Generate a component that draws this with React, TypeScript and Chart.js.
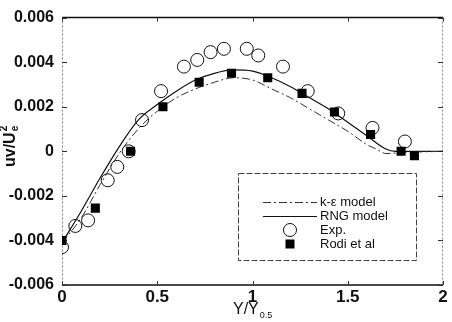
import React, { useEffect, useRef } from "react";
import { Chart, registerables } from "chart.js";

Chart.register(...registerables);

// ---- data ----
const kepsX = [0, 0.1, 0.2, 0.3, 0.4, 0.5, 0.6, 0.7, 0.8, 0.9, 1.0, 1.1, 1.2, 1.3, 1.4, 1.5, 1.6, 1.65, 1.7, 1.8, 2.0];
const kepsY = [-0.0041, -0.003, -0.0015, -0.0001, 0.001, 0.0018, 0.0024, 0.0028, 0.0031, 0.0033, 0.0032, 0.0028, 0.0024, 0.0019, 0.0014, 0.0009, 0.0003, 0.0001, -0.0001, -0.00005, 0];

const rngX = [0, 0.1, 0.2, 0.3, 0.4, 0.5, 0.6, 0.7, 0.8, 0.9, 1.0, 1.1, 1.2, 1.3, 1.4, 1.5, 1.6, 1.7, 1.75, 2.0];
const rngY = [-0.0041, -0.0027, -0.0012, 0.0002, 0.0014, 0.0021, 0.0027, 0.0032, 0.0035, 0.00365, 0.0036, 0.0033, 0.0029, 0.0024, 0.0019, 0.0013, 0.0007, 0.0001, 0, 0];

const expX = [0, 0.07, 0.137, 0.24, 0.29, 0.35, 0.42, 0.52, 0.64, 0.71, 0.78, 0.85, 0.97, 1.03, 1.16, 1.29, 1.45, 1.63, 1.8];
const expY = [-0.0043, -0.00335, -0.0031, -0.0013, -0.0007, 0.0, 0.0014, 0.0027, 0.0038, 0.0041, 0.00445, 0.0046, 0.0046, 0.0043, 0.0038, 0.0027, 0.0017, 0.00105, 0.00044];

const rodiX = [0, 0.175, 0.36, 0.53, 0.72, 0.89, 1.08, 1.26, 1.43, 1.62, 1.78, 1.85];
const rodiY = [-0.004, -0.00255, 0.0, 0.002, 0.0031, 0.0035, 0.0033, 0.0026, 0.00176, 0.00075, 0.0, -0.0002];

const xTicks = [0, 0.5, 1, 1.5, 2];
const yTicks = [-0.006, -0.004, -0.002, 0, 0.002, 0.004, 0.006];
const seriesNames = ["k-\u03B5 model", "RNG model", "Exp.", "Rodi et al"];

const FONT = "'Liberation Sans', Arial, Helvetica, sans-serif";

function pts(xs: number[], ys: number[]) {
  return xs.map((x, i) => ({ x, y: ys[i] }));
}

function fmtY(v: number) {
  if (Math.abs(v) < 1e-9) return "0";
  return v.toFixed(3);
}

const framePlugin = {
  id: "frame",
  beforeDatasetsDraw(chart: any) {
    const { ctx, chartArea, scales } = chart;
    const { left, right, top, bottom } = chartArea;
    ctx.save();
    ctx.strokeStyle = "#111";
    ctx.lineWidth = 1.5;
    ctx.beginPath();
    ctx.moveTo(left, top);
    ctx.lineTo(right, top);
    ctx.moveTo(left, bottom);
    ctx.lineTo(right, bottom);
    ctx.stroke();
    ctx.setLineDash([2, 2]);
    ctx.strokeStyle = "#888";
    ctx.lineWidth = 1;
    ctx.beginPath();
    ctx.moveTo(left + 0.5, top);
    ctx.lineTo(left + 0.5, bottom);
    ctx.moveTo(right - 0.5, top);
    ctx.lineTo(right - 0.5, bottom);
    ctx.stroke();
    ctx.setLineDash([]);
    ctx.strokeStyle = "#333";
    ctx.beginPath();
    yTicks.forEach((v) => {
      const py = Math.round(scales.y.getPixelForValue(v)) + 0.5;
      ctx.moveTo(left, py);
      ctx.lineTo(left + 5, py);
      ctx.moveTo(right, py);
      ctx.lineTo(right - 5, py);
    });
    xTicks.forEach((v) => {
      const px = Math.round(scales.x.getPixelForValue(v)) + 0.5;
      ctx.moveTo(px, bottom);
      ctx.lineTo(px, bottom - 4);
      ctx.moveTo(px, top);
      ctx.lineTo(px, top + 4);
    });
    ctx.stroke();
    ctx.restore();
  },
};

const titlesPlugin = {
  id: "titles",
  afterDraw(chart: any) {
    const { ctx } = chart;
    ctx.save();
    ctx.fillStyle = "#111";
    // x title
    ctx.textBaseline = "alphabetic";
    ctx.textAlign = "left";
    ctx.font = `16px ${FONT}`;
    const main = "Y/Y";
    ctx.fillText(main, 233, 314);
    const w = ctx.measureText(main).width;
    ctx.font = `9px ${FONT}`;
    ctx.fillText("0.5", 233 + w + 1, 318);
    // y title (rotated)
    ctx.translate(15, 167);
    ctx.rotate(-Math.PI / 2);
    ctx.font = `bold 16px ${FONT}`;
    const ym = "uv/U";
    ctx.fillText(ym, 0, 0);
    const yw = ctx.measureText(ym).width;
    ctx.font = `bold 10px ${FONT}`;
    ctx.fillText("2", yw + 1, -8);
    ctx.fillText("e", yw + 1, 3);
    ctx.restore();
  },
};

const legendPlugin = {
  id: "boxLegend",
  afterDraw(chart: any) {
    const { ctx } = chart;
    const bx = 238, by = 173, bw = 178, bh = 87;
    ctx.save();
    ctx.fillStyle = "#fff";
    ctx.fillRect(bx, by, bw, bh);
    ctx.strokeStyle = "#444";
    ctx.lineWidth = 1;
    ctx.setLineDash([6, 2]);
    ctx.strokeRect(bx + 0.5, by + 0.5, bw, bh);
    ctx.setLineDash([]);
    const rows = [202, 216, 230, 244];
    const x0 = 263, x1 = 317, xm = 290;
    chart.data.datasets.forEach((ds: any, i: number) => {
      const yy = rows[i];
      if (ds.showLine) {
        ctx.strokeStyle = ds.borderColor;
        ctx.lineWidth = ds.borderWidth;
        ctx.setLineDash(ds.borderDash || []);
        ctx.beginPath();
        ctx.moveTo(x0, yy + 0.5);
        ctx.lineTo(x1, yy + 0.5);
        ctx.stroke();
        ctx.setLineDash([]);
      } else if (ds.pointStyle === "circle") {
        ctx.strokeStyle = "#111";
        ctx.lineWidth = 1;
        ctx.beginPath();
        ctx.arc(xm, yy, 6.5, 0, Math.PI * 2);
        ctx.stroke();
      } else {
        ctx.fillStyle = "#000";
        ctx.fillRect(xm - 4.5, yy - 4.5, 9, 9);
      }
      ctx.fillStyle = "#111";
      ctx.font = `13px ${FONT}`;
      ctx.textAlign = "left";
      ctx.textBaseline = "middle";
      ctx.fillText(ds.label, 320, yy);
    });
    ctx.restore();
  },
};

export default function App() {
  const ref = useRef<HTMLCanvasElement | null>(null);

  useEffect(() => {
    if (!ref.current) return;
    const chart = new Chart(ref.current, {
      type: "scatter",
      data: {
        datasets: [
          {
            label: seriesNames[0],
            data: pts(kepsX, kepsY),
            showLine: true,
            borderColor: "#333",
            borderWidth: 1,
            borderDash: [8, 3, 2, 3],
            pointRadius: 0,
            cubicInterpolationMode: "monotone",
            order: 3,
          },
          {
            label: seriesNames[1],
            data: pts(rngX, rngY),
            showLine: true,
            borderColor: "#111",
            borderWidth: 1.2,
            pointRadius: 0,
            cubicInterpolationMode: "monotone",
            order: 3,
          },
          {
            label: seriesNames[2],
            data: pts(expX, expY),
            showLine: false,
            pointStyle: "circle",
            pointRadius: 6.5,
            pointBackgroundColor: "rgba(0,0,0,0)",
            pointBorderColor: "#111",
            pointBorderWidth: 1,
            order: 2,
          },
          {
            label: seriesNames[3],
            data: pts(rodiX, rodiY),
            showLine: false,
            pointStyle: "rect",
            pointRadius: 6.4,
            pointBackgroundColor: "#000",
            pointBorderColor: "#000",
            pointBorderWidth: 0,
            order: 1,
          },
        ] as any,
      },
      options: {
        animation: false,
        responsive: false,
        devicePixelRatio: 1,
        events: [],
        layout: { padding: { top: 13, right: 9, left: 0, bottom: 0 } },
        plugins: { legend: { display: false }, tooltip: { enabled: false } },
        scales: {
          x: {
            type: "linear",
            min: 0,
            max: 2,
            afterBuildTicks: (s: any) => {
              s.ticks = xTicks.map((v) => ({ value: v }));
            },
            afterFit: (s: any) => {
              s.height = 37;
            },
            ticks: {
              font: { family: FONT, size: 17, weight: "bold" },
              color: "#111",
              padding: 2,
              maxRotation: 0,
              callback: (v: any) => String(Number(v)),
            },
            grid: { display: false, drawTicks: false },
            border: { display: false },
          },
          y: {
            type: "linear",
            min: -0.006,
            max: 0.006,
            afterBuildTicks: (s: any) => {
              s.ticks = yTicks.map((v) => ({ value: v }));
            },
            afterFit: (s: any) => {
              s.width = 62;
            },
            ticks: {
              font: { family: FONT, size: 16, weight: "bold" },
              color: "#111",
              padding: 8,
              callback: (v: any) => fmtY(Number(v)),
            },
            grid: { display: false, drawTicks: false },
            border: { display: false },
          },
        },
      } as any,
      plugins: [framePlugin, titlesPlugin, legendPlugin],
    });
    return () => chart.destroy();
  }, []);

  return (
    <div style={{ position: "absolute", left: 0, top: 0, width: 452, height: 322, background: "#fff" }}>
      <canvas ref={ref} width={452} height={322} style={{ display: "block", width: 452, height: 322 }} />
    </div>
  );
}
